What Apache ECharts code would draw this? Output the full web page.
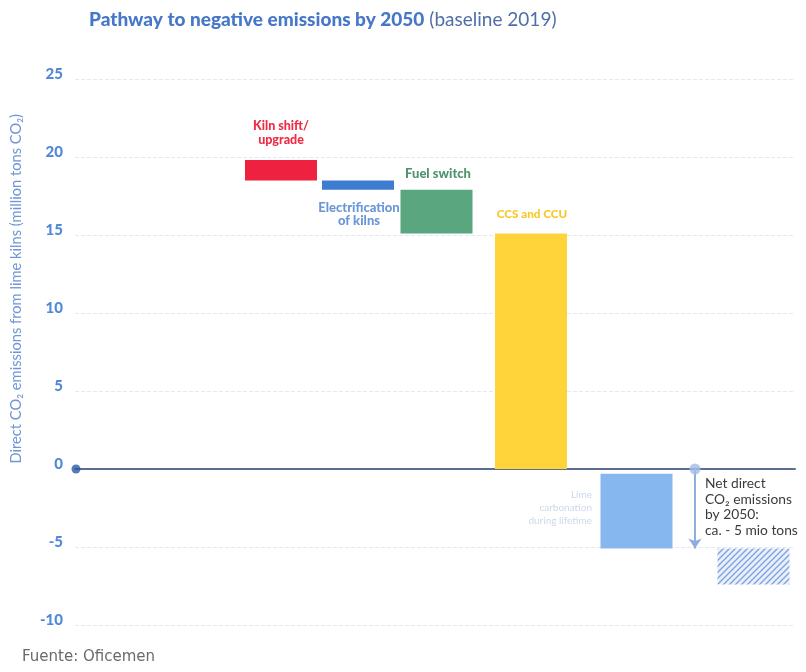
<!DOCTYPE html>
<html>
<head>
<meta charset="utf-8">
<script src="https://cdn.jsdelivr.net/npm/echarts@6/dist/echarts.min.js"></script>
<style>
html,body{margin:0;padding:0;background:#fff;}
#chart{width:806px;height:672px;}
</style>
</head>
<body>
<div id="chart"></div>
<script>
// ---- data ----
const categories = ['Kiln shift/upgrade', 'Electrification of kilns', 'Fuel switch', 'CCS and CCU', 'Lime carbonation', 'Net negative'];
const barTop    = [19.8, 18.5, 17.9, 15.1, -0.3, -5.1];
const barBottom = [18.5, 17.9, 15.1, 0,    -5.1, -7.4];
const yTicks = [-10, -5, 0, 5, 10, 15, 20, 25];
const netValue = -5.1;

// ---- layout (pixels along the hidden x scale) ----
const xCenters = [206, 283, 361.5, 456, 561.5, 678.5];
const barWidth = 72;
const colors = ['#ee2140', '#3d7cd0', '#5aa67f', '#fed43a', '#87b7ef', 'hatch'];

const hatch = document.createElement('canvas');
hatch.width = 6; hatch.height = 6;
(function(){
  const c = hatch.getContext('2d');
  c.fillStyle = '#e9f0fb'; c.fillRect(0,0,6,6);
  c.strokeStyle = '#7fa3e0'; c.lineWidth = 1.4;
  c.beginPath(); c.moveTo(0,6); c.lineTo(6,0); c.moveTo(-3,3); c.lineTo(3,-3); c.moveTo(3,9); c.lineTo(9,3); c.stroke();
})();

const barData = categories.map((c, i) => [xCenters[i], barBottom[i], barTop[i]]);

const chart = echarts.init(document.getElementById('chart'), null, {renderer: 'canvas'});
const font = 'Lato, "Open Sans", sans-serif';

chart.setOption({
  animation: false,
  title: {
    left: 84, top: 5,
    text: '{b|Pathway to negative emissions by 2050} {n|(baseline 2019)}',
    textStyle: {
      rich: {
        b: {fontFamily: font, fontWeight: 900, fontSize: 19, color: '#4677c8'},
        n: {fontFamily: font, fontWeight: 400, fontSize: 19, color: '#4f6ea8'}
      }
    }
  },
  grid: {left: 75, right: 11, top: 79, bottom: 47},
  xAxis: {
    type: 'value', min: 0, max: 720,
    axisLine: {show: true, onZero: true, lineStyle: {color: '#5b6e92', width: 2}},
    axisTick: {show: false}, axisLabel: {show: false}, splitLine: {show: false}
  },
  yAxis: {
    type: 'value', min: yTicks[0], max: yTicks[yTicks.length-1], interval: 5,
    axisLine: {show: false}, axisTick: {show: false},
    axisLabel: {margin: 12, fontFamily: font, fontWeight: 900, fontSize: 15, color: '#5288d8', verticalAlign: 'bottom', lineHeight: 10},
    splitLine: {lineStyle: {color: '#e2e9f4', type: 'dashed', width: 1}}
  },
  series: [
    {
      type: 'custom',
      data: barData,
      encode: {x: 0, y: [1, 2]},
      renderItem: function (params, api) {
        const i = params.dataIndex;
        const x = api.value(0), lo = api.value(1), hi = api.value(2);
        const p1 = api.coord([x - barWidth / 2, hi]);
        const p2 = api.coord([x + barWidth / 2, lo]);
        const fill = colors[i] === 'hatch' ? {image: hatch, repeat: 'repeat'} : colors[i];
        return {type: 'rect', shape: {x: p1[0], y: p1[1], width: p2[0] - p1[0], height: p2[1] - p1[1]}, style: {fill: fill}};
      },
      z: 3
    },
    {
      type: 'scatter',
      data: [
        {value: [1, 0], symbolSize: 9, itemStyle: {color: '#2d5aa5'}},
        {value: [620, 0], symbolSize: 11, itemStyle: {color: '#a3bde6'}}
      ],
      z: 5,
      markLine: {
        silent: true,
        symbol: ['none', 'arrow'], symbolSize: 10,
        label: {show: false},
        lineStyle: {color: '#8eaee2', width: 2, type: 'solid'},
        data: [[{coord: [620, 0]}, {coord: [620, netValue]}]]
      }
    }
  ],
  graphic: [
    {type: 'text', left: 9, top: 114, rotation: Math.PI / 2, originX: 0, originY: 0,
      style: {text: 'Direct CO\u2082 emissions from lime kilns (million tons CO\u2082)', fontFamily: font, fontSize: 14.7, fill: '#6f96d6'}},
    {type: 'text', x: 281, y: 119, style: {text: 'Kiln shift/\nupgrade', textAlign: 'center', fontFamily: font, fontWeight: 900, fontSize: 12.5, lineHeight: 14, fill: '#ef2b45'}},
    {type: 'text', x: 359, y: 201, style: {text: 'Electrification\nof kilns', textAlign: 'center', fontFamily: font, fontWeight: 900, fontSize: 13, lineHeight: 13, fill: '#6a97d8'}},
    {type: 'text', x: 438, y: 167, style: {text: 'Fuel switch', textAlign: 'center', fontFamily: font, fontWeight: 900, fontSize: 13, fill: '#4f9370'}},
    {type: 'text', x: 532, y: 208, style: {text: 'CCS and CCU', textAlign: 'center', fontFamily: font, fontWeight: 900, fontSize: 11.7, fill: '#f6c928'}},
    {type: 'text', x: 592, y: 488, style: {text: 'Lime\ncarbonation\nduring lifetime', textAlign: 'right', fontFamily: font, fontSize: 10, lineHeight: 13, fill: '#cdd8ec'}},
    {type: 'text', x: 705, y: 476, style: {text: 'Net direct\nCO\u2082 emissions\nby 2050:\nca. - 5 mio tons', fontFamily: font, fontSize: 13.8, lineHeight: 15.5, fill: '#3b3b3b'}},
    {type: 'text', x: 22, y: 650, style: {text: 'Fuente: Oficemen', fontFamily: '"DejaVu Sans", sans-serif', fontSize: 15, fill: '#6a6a6a'}}
  ]
});
</script>
</body>
</html>
